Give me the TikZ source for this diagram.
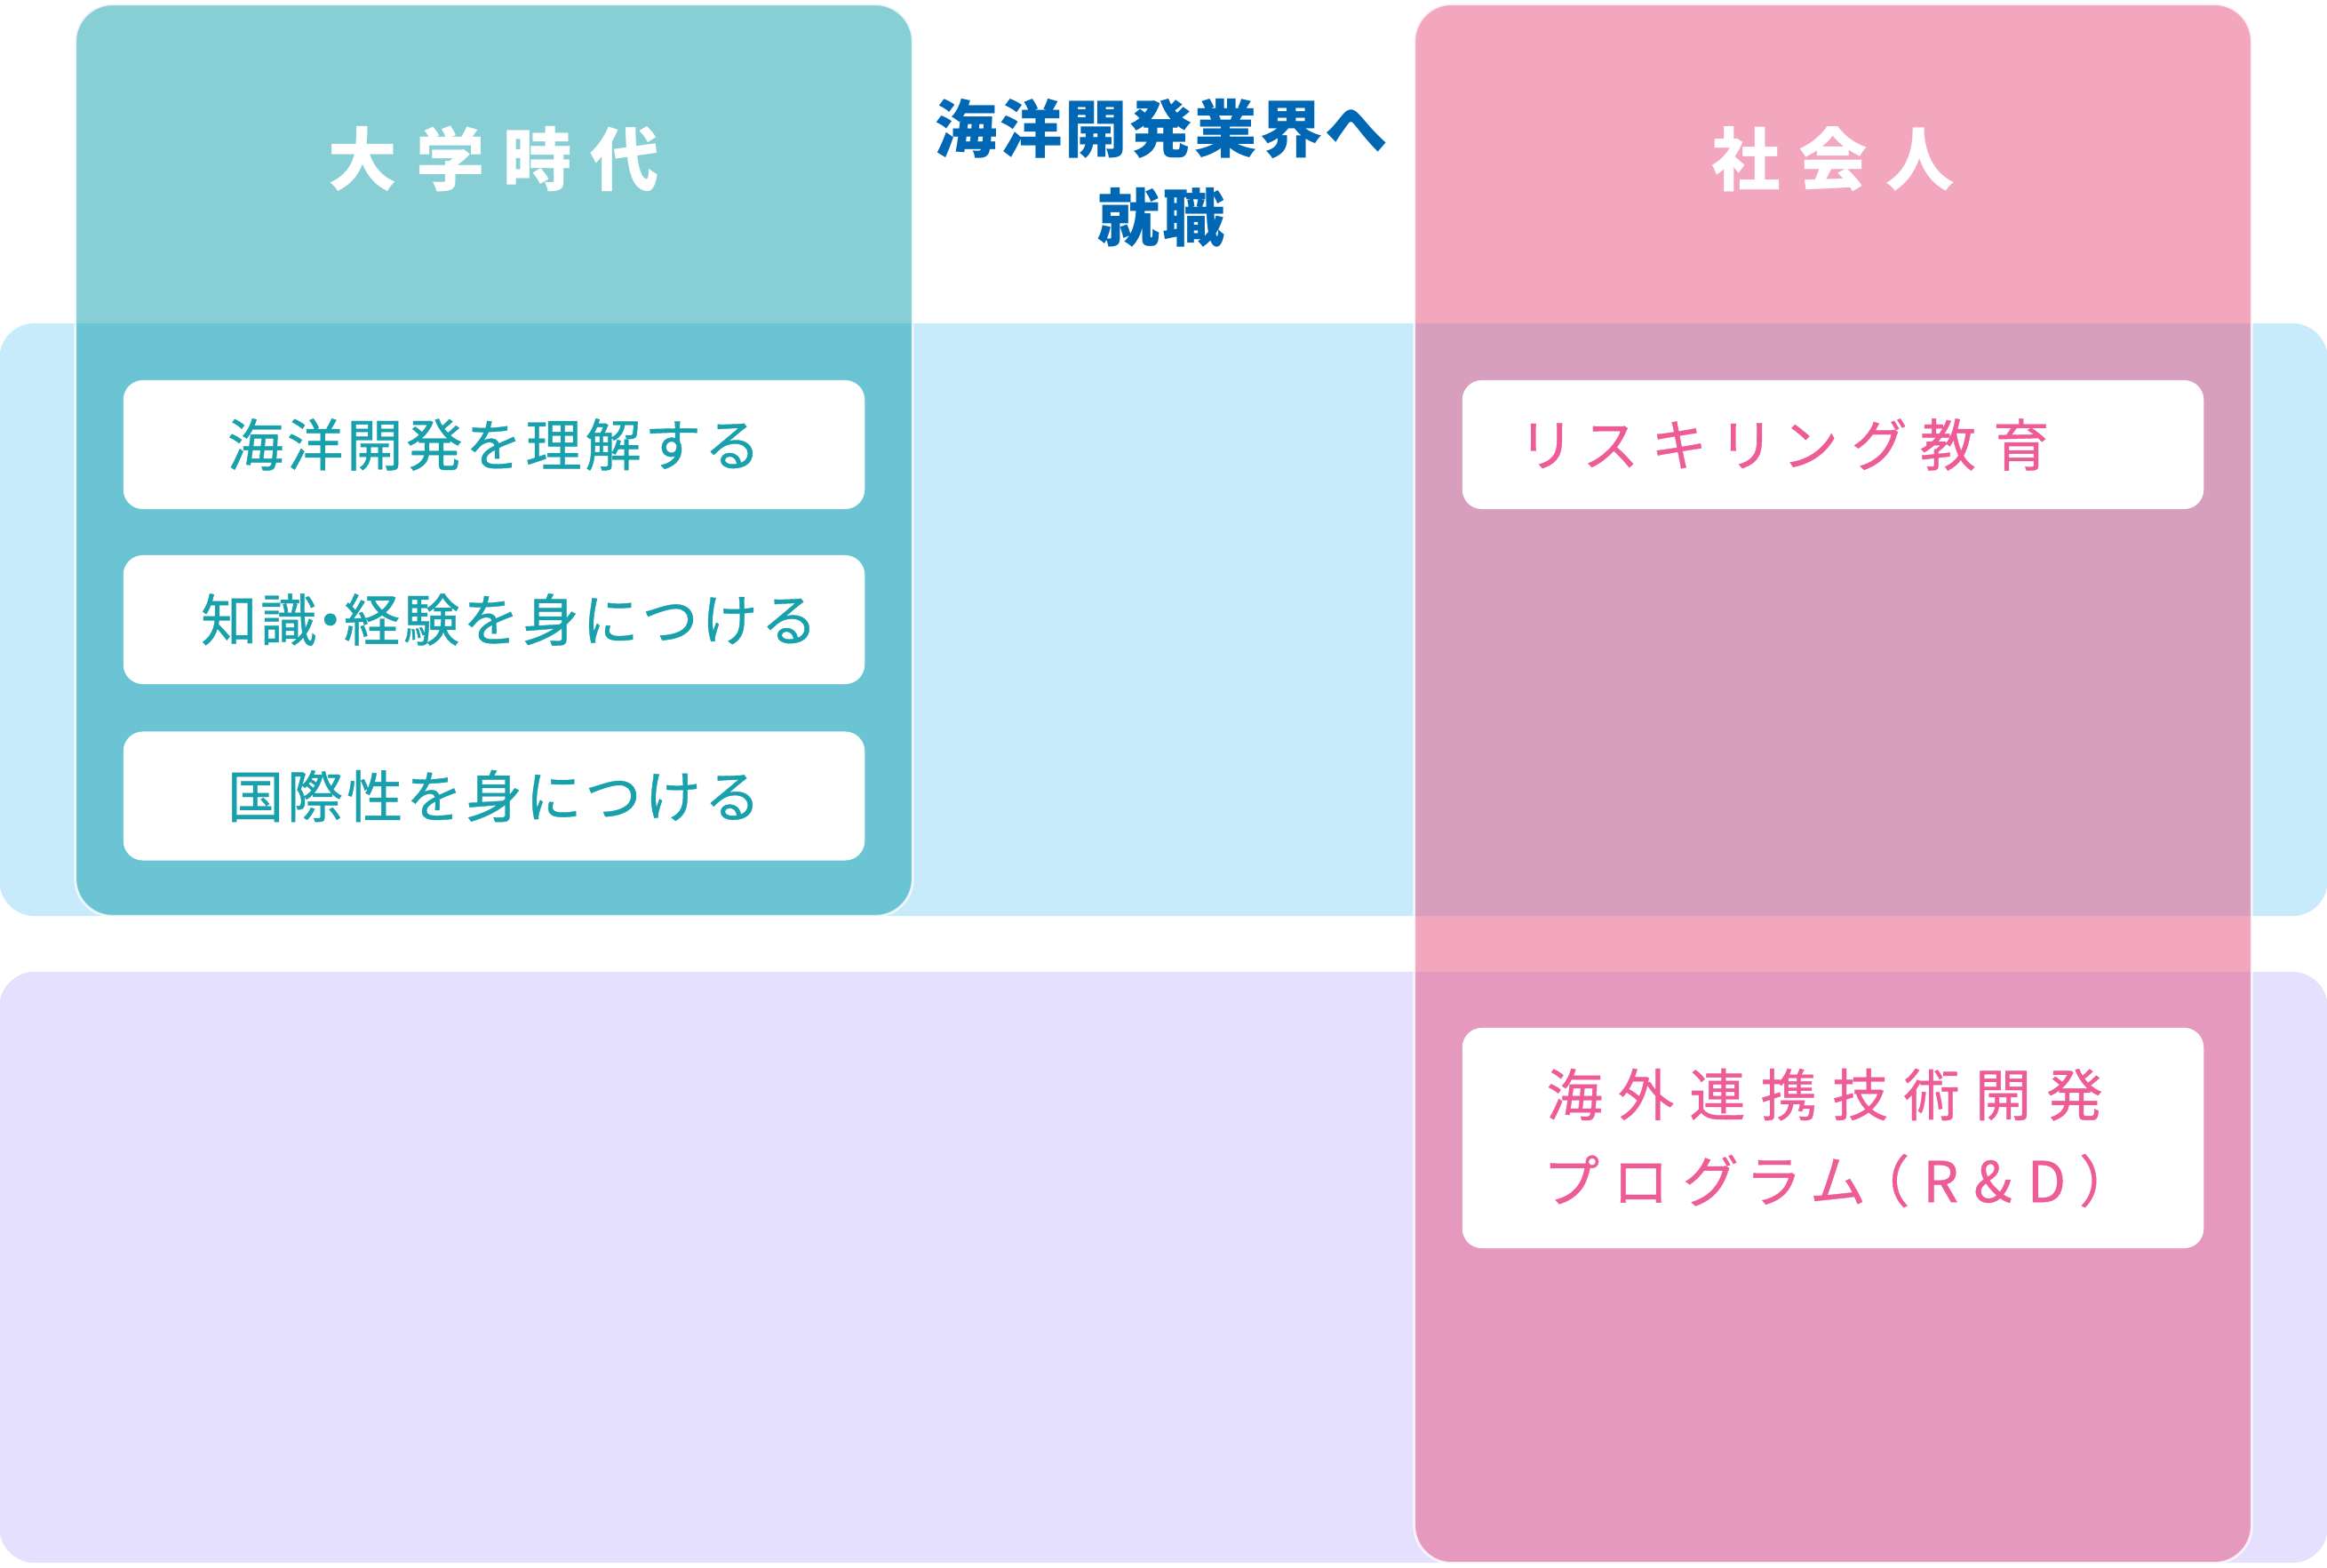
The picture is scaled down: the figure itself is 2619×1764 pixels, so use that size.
\documentclass[tikz,border=0pt]{standalone}
\usepackage{fontspec}
\setmainfont{Noto Sans CJK JP}
\newfontfamily\headfont[LetterSpace=27]{Noto Sans CJK JP}
\newfontfamily\jobfont[LetterSpace=4]{Noto Sans CJK JP}
\newfontfamily\itemfont[LetterSpace=6,FakeBold=0.6]{Noto Sans CJK JP}
\newfontfamily\reskillfont[LetterSpace=30,FakeBold=0.6,RawFeature=+palt]{Noto Sans CJK JP}
\newfontfamily\widefont[LetterSpace=27,FakeBold=0.6,RawFeature=+palt]{Noto Sans CJK JP}
\usetikzlibrary{positioning}
\definecolor{bandblue}{HTML}{C8EBFC}
\definecolor{bandlav}{HTML}{E5E0FE}
\definecolor{colteal}{HTML}{049BA8}
\definecolor{colpink}{HTML}{E75D88}
\definecolor{txtteal}{HTML}{18A0AC}
\definecolor{txtpink}{HTML}{EE5C97}
\definecolor{txtnavy}{HTML}{0067B5}

\begin{document}
\begin{tikzpicture}[x=0.01cm,y=-0.01cm,
    band/.style={rounded corners=0.4cm,inner sep=0pt,minimum width=26.19cm},
    column/.style={rounded corners=0.42cm,draw=white,draw opacity=0.8,line width=0.8pt,
      inner sep=0pt,minimum width=9.42cm},
    itembox/.style={fill=white,rounded corners=0.22cm,inner sep=0pt,minimum width=8.34cm,minimum height=1.45cm},
    heading/.style={text=white,font=\headfont\bfseries\fontsize{22}{26}\selectfont},
    tealtext/.style={text=txtteal,font=\itemfont\fontsize{18}{22}\selectfont},
    pinktext/.style={text=txtpink,font=\itemfont\fontsize{18}{22}\selectfont}]
      \useasboundingbox (0,0) rectangle (2619,1764);

      \coordinate (s) at (1309.5,697.5);
      \coordinate (o) at (1309.5,1426.5);
      \coordinate (u) at (556,518);
      \coordinate (w) at (2063,882);

      \node[band,fill=bandblue,minimum height=6.67cm] (study) at (s) {};
      \node[band,fill=bandlav,minimum height=6.65cm] (oversea) at (o) {};

      \node[column,fill=colteal,fill opacity=0.48,minimum height=10.26cm] (uni) at (u) {};
      \node[column,fill=colpink,fill opacity=0.54,minimum height=17.54cm] (work) at (w) {};

      \node[heading] (unititle) at (556,179) {大学時代};
      \node[heading] (worktitle) at (2063,179) {社会人};
      \node[text=txtnavy,align=center,font=\jobfont\bfseries\fontsize{20}{28.4}\selectfont]
        (job) at (1307,195) {海洋開発業界へ\\就職};

      \node[itembox] (learn) at (556,500.5) {};
      \node[itembox] (skill) at (556,697.5) {};
      \node[itembox] (global) at (556,896) {};
      \node[itembox] (reskill) at (2063,500.5) {};
      \node[itembox,minimum height=2.48cm] (rnd) at (2063,1281) {};

      \node[tealtext] (learntext) at (learn) {海洋開発を理解する};
      \node[tealtext,xshift=0.17cm] (skilltext) at (skill) {知識\kern-0.26em・\kern-0.26em 経験を身につける};
      \node[tealtext] (globaltext) at (global) {国際性を身につける};
      \node[pinktext,font=\reskillfont\fontsize{18}{22}\selectfont,right=0.56cm of reskill.west]
        (reskilltext) {リスキリング教育};
      \node[pinktext,font=\widefont\fontsize{18}{27.6}\selectfont,align=left,right=0.83cm of rnd.west]
        (rndtext) {海外連携技術開発\\プログラム（R\&D）};
    \end{tikzpicture}
\end{document}
